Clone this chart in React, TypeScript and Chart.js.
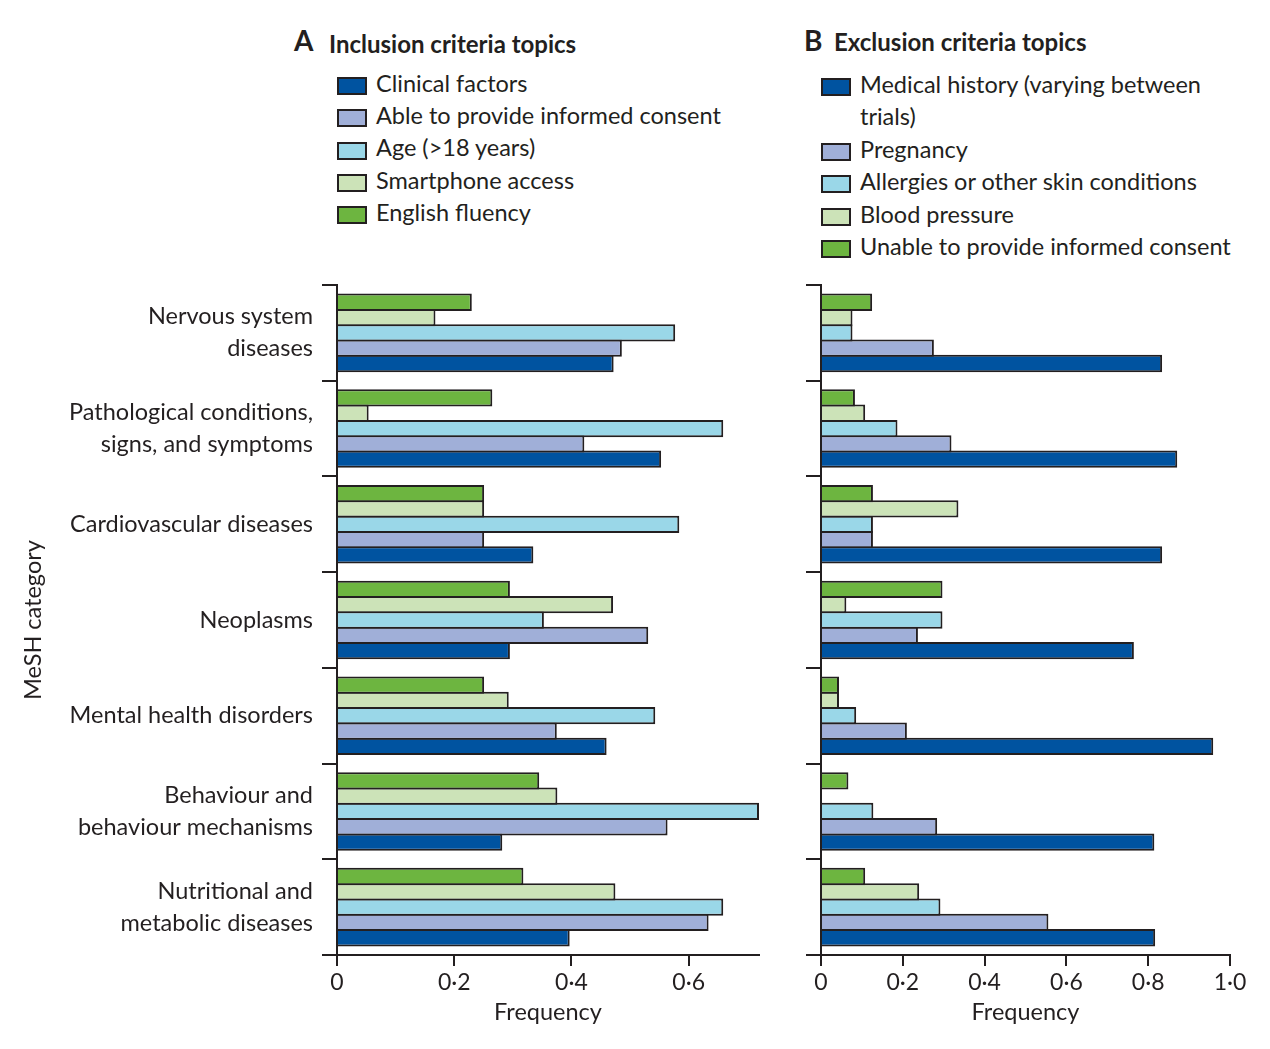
import React, { useEffect, useRef } from 'react';
import { Chart, registerables } from 'chart.js';

Chart.register(...registerables);

const INK = '#231f20';
const FONT = 'Lato';

// MeSH categories (y axis, top to bottom)
const categories = [
  ['Nervous system', 'diseases'],
  ['Pathological conditions,', 'signs, and symptoms'],
  ['Cardiovascular diseases'],
  ['Neoplasms'],
  ['Mental health disorders'],
  ['Behaviour and', 'behaviour mechanisms'],
  ['Nutritional and', 'metabolic diseases'],
];

// A: inclusion criteria topics (legend order)
const inclusionLabels = [
  'Clinical factors',
  'Able to provide informed consent',
  'Age (>18 years)',
  'Smartphone access',
  'English fluency',
];
const clinicalFactors = [0.472, 0.553, 0.335, 0.295, 0.46, 0.282, 0.397];
const ableToConsent = [0.486, 0.422, 0.251, 0.531, 0.375, 0.564, 0.634];
const ageOver18 = [0.577, 0.659, 0.584, 0.353, 0.543, 0.72, 0.659];
const smartphoneAccess = [0.168, 0.054, 0.251, 0.471, 0.293, 0.376, 0.475];
const englishFluency = [0.23, 0.265, 0.251, 0.295, 0.251, 0.345, 0.318];

// B: exclusion criteria topics (legend order)
const exclusionLabels = [
  'Medical history (varying between trials)',
  'Pregnancy',
  'Allergies or other skin conditions',
  'Blood pressure',
  'Unable to provide informed consent',
];
const medicalHistory = [0.834, 0.871, 0.834, 0.765, 0.959, 0.815, 0.817];
const pregnancy = [0.276, 0.319, 0.127, 0.237, 0.21, 0.284, 0.556];
const allergiesSkin = [0.077, 0.187, 0.127, 0.297, 0.086, 0.128, 0.292];
const bloodPressure = [0.077, 0.108, 0.336, 0.062, 0.044, 0, 0.24];
const unableToConsent = [0.125, 0.083, 0.127, 0.297, 0.044, 0.067, 0.108];

const seriesColors = ['#0053a0', '#a0afd8', '#9ad7e8', '#cce3b8', '#6db540'];

const inclusionTicks = [0, 0.2, 0.4, 0.6];
const exclusionTicks = [0, 0.2, 0.4, 0.6, 0.8, 1.0];
const inclusionMax = 0.72;
const exclusionMax = 1.0;

const fmt = (v: number) => (v === 0 ? '0' : v.toFixed(1).replace('.', '\u00b7'));

function buildChart(
  canvas: HTMLCanvasElement,
  series: number[][],
  labels: string[],
  max: number,
  ticks: number[],
  yWidth: number,
  rightPad: number,
  showY: boolean,
) {
  const datasets = series
    .map((d, i) => ({
      label: labels[i],
      data: d,
      backgroundColor: seriesColors[i],
      borderColor: INK,
      borderWidth: 2,
      borderSkipped: 'start' as const,
      categoryPercentage: 0.8,
      barPercentage: 1.13,
    }))
    .reverse();

  return new Chart(canvas, {
    type: 'bar',
    data: { labels: categories as any, datasets },
    options: {
      indexAxis: 'y',
      responsive: false,
      animation: false,
      devicePixelRatio: 1,
      layout: { padding: { top: 15, right: rightPad, left: 0, bottom: 0 } },
      plugins: { legend: { display: false }, tooltip: { enabled: false } },
      scales: {
        y: {
          type: 'category',
          offset: true,
          z: 1,
          grid: {
            display: true,
            offset: true,
            drawOnChartArea: false,
            drawTicks: true,
            tickLength: 15,
            color: INK,
            lineWidth: 2,
          },
          border: { display: true, color: INK, width: 2 },
          ticks: {
            display: showY,
            padding: 9,
            color: INK,
            autoSkip: false,
            font: { family: FONT, size: 23.5, lineHeight: 1.36 },
          },
          title: {
            display: showY,
            text: 'MeSH category',
            color: INK,
            font: { family: FONT, size: 23.5 },
            padding: { top: 19, bottom: 0 },
          },
          afterFit: (s: any) => {
            s.width = yWidth;
            s.paddingTop = 0;
            s.paddingBottom = 0;
          },
        },
        x: {
          type: 'linear',
          min: 0,
          max,
          z: 1,
          afterBuildTicks: (s: any) => {
            s.ticks = ticks.map((v) => ({ value: v }));
          },
          grid: {
            drawOnChartArea: false,
            drawTicks: true,
            tickLength: 11,
            color: INK,
            lineWidth: 2,
          },
          border: { display: true, color: INK, width: 2 },
          ticks: {
            padding: 3,
            color: INK,
            autoSkip: false,
            maxRotation: 0,
            font: { family: FONT, size: 23 },
            callback: (v: any) => fmt(Number(v)),
          },
          title: {
            display: true,
            text: 'Frequency',
            color: INK,
            font: { family: FONT, size: 23.5 },
            padding: { top: 0, bottom: 22 },
          },
          afterFit: (s: any) => {
            s.height = 94;
          },
        },
      },
    },
  } as any);
}

function Legend({ left, top, lineH, labels, width }: { left: number; top: number; lineH: number; labels: string[]; width: number }) {
  return (
    <div style={{ position: 'absolute', left, top, width: width + 40 }}>
      {labels.map((l, i) => (
        <div key={i} style={{ display: 'flex', alignItems: 'flex-start' }}>
          <div
            style={{
              width: 30,
              height: 18,
              boxSizing: 'border-box',
              border: `2px solid ${INK}`,
              background: seriesColors[i],
              marginTop: (lineH - 18) / 2 + 3,
              flex: '0 0 auto',
            }}
          />
          <div style={{ marginLeft: 9, fontSize: 23.5, lineHeight: `${lineH}px`, width }}>{l}</div>
        </div>
      ))}
    </div>
  );
}

export default function App() {
  const leftRef = useRef<HTMLCanvasElement>(null);
  const rightRef = useRef<HTMLCanvasElement>(null);

  useEffect(() => {
    const a = buildChart(
      leftRef.current!,
      [clinicalFactors, ableToConsent, ageOver18, smartphoneAccess, englishFluency],
      inclusionLabels,
      inclusionMax,
      inclusionTicks,
      337,
      21,
      true,
    );
    const b = buildChart(
      rightRef.current!,
      [medicalHistory, pregnancy, allergiesSkin, bloodPressure, unableToConsent],
      exclusionLabels,
      exclusionMax,
      exclusionTicks,
      41,
      40,
      false,
    );
    return () => {
      a.destroy();
      b.destroy();
    };
  }, []);

  return (
    <div
      style={{
        position: 'absolute',
        left: 0,
        top: 0,
        width: 1270,
        height: 1049,
        background: '#fff',
        fontFamily: FONT,
        color: INK,
        overflow: 'hidden',
      }}
    >
      <div style={{ position: 'absolute', left: 294, top: 26, fontSize: 28, fontWeight: 700, lineHeight: 1 }}>A</div>
      <div style={{ position: 'absolute', left: 329, top: 32, fontSize: 24, fontWeight: 700, lineHeight: 1, whiteSpace: 'nowrap' }}>
        Inclusion criteria topics
      </div>
      <div style={{ position: 'absolute', left: 804, top: 26, fontSize: 28, fontWeight: 700, lineHeight: 1 }}>B</div>
      <div style={{ position: 'absolute', left: 834, top: 30, fontSize: 24, fontWeight: 700, lineHeight: 1, whiteSpace: 'nowrap' }}>
        Exclusion criteria topics
      </div>
      <Legend left={337} top={67} lineH={32.2} labels={inclusionLabels} width={400} />
      <Legend left={821} top={68} lineH={32.4} labels={exclusionLabels} width={372} />
      <canvas ref={leftRef} width={780} height={779} style={{ position: 'absolute', left: 0, top: 270 }} />
      <canvas ref={rightRef} width={490} height={779} style={{ position: 'absolute', left: 780, top: 270 }} />
    </div>
  );
}
